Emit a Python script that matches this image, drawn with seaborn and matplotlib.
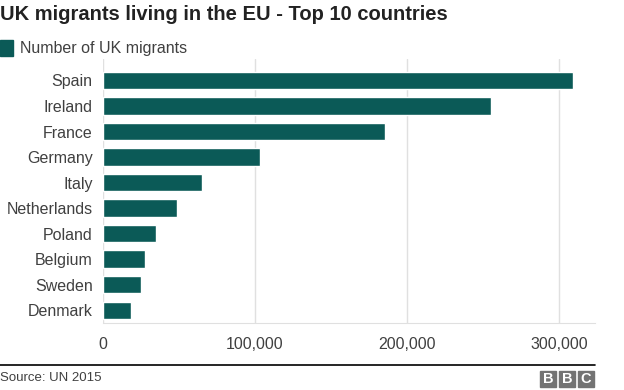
import pandas as pd
import matplotlib.pyplot as plt
import seaborn as sns
from matplotlib.patches import Rectangle
from matplotlib.lines import Line2D

# data
countries = ['Spain', 'Ireland', 'France', 'Germany', 'Italy',
             'Netherlands', 'Poland', 'Belgium', 'Sweden', 'Denmark']
migrants = [309000, 255000, 185500, 103000, 65000,
            49000, 34700, 27400, 24800, 18300]
xticks = [0, 100000, 200000, 300000]
xtick_labels = ['0', '100,000', '200,000', '300,000']

df = pd.DataFrame({'country': countries, 'migrants': migrants})

sns.set_style('white')
plt.rcParams['font.family'] = ['Liberation Sans', 'DejaVu Sans']

bar_col = '#0b5a57'

fig = plt.figure(figsize=(6.24, 3.9), dpi=100)
ax = fig.add_axes([103 / 624, 1 - 323 / 390, 492 / 624, 264 / 390])

sns.barplot(data=df, x='migrants', y='country', color=bar_col,
            saturation=1, width=0.68, ax=ax)

ax.set_xlim(0, 323700)
ax.set_ylim(9.5, -0.84)
ax.set_xticks(xticks)
ax.set_xticklabels(xtick_labels)
ax.set_xlabel('')
ax.set_ylabel('')
ax.grid(axis='x', color='#e0e0e0', linewidth=1)
ax.set_axisbelow(True)
for s in ['top', 'right', 'left']:
    ax.spines[s].set_visible(False)
ax.spines['bottom'].set_color('#e0e0e0')
ax.tick_params(axis='both', length=0, labelsize=11.5, colors='#404040')
ax.tick_params(axis='y', pad=7.5)
ax.tick_params(axis='x', pad=10)

# title and legend
fig.text(0, 1 - 14 / 390, 'UK migrants living in the EU - Top 10 countries',
         fontsize=14.5, fontweight='bold', color='#222222', va='center', ha='left')
fig.patches.append(Rectangle((0, 1 - 56 / 390), 13 / 624, 16 / 390,
                             transform=fig.transFigure, color=bar_col))
fig.text(20 / 624, 1 - 48 / 390, 'Number of UK migrants', fontsize=11.5,
         color='#404040', va='center', ha='left')

# footer
fig.lines.append(Line2D([0, 595 / 624], [1 - 365 / 390] * 2,
                        transform=fig.transFigure, color='black', linewidth=1.2))
fig.text(0, 1 - 378 / 390, 'Source: UN 2015', fontsize=9.5, color='#404040',
         va='center', ha='left')
for i, letter in enumerate('BBC'):
    x0 = 540 + i * 19
    fig.patches.append(Rectangle((x0 / 624, 1 - 387 / 390), 16 / 624, 16 / 390,
                                 transform=fig.transFigure, color='#737373'))
    fig.text((x0 + 8) / 624, 1 - 379 / 390, letter, fontsize=10.5,
             fontweight='bold', color='white', ha='center', va='center')

fig.savefig('out.png', dpi=100, facecolor='white')
